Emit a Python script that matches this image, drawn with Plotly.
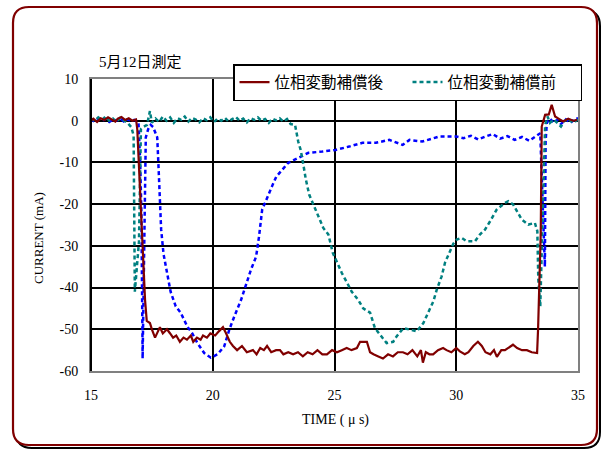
import plotly.graph_objects as go

# ---------------- data ----------------
red_t = [15.0, 15.1, 15.25, 15.4, 15.55, 15.7, 15.85, 16.0, 16.1, 16.25, 16.4, 16.55, 16.7, 16.85,
         16.9, 16.97, 17.08, 17.22, 17.29, 17.42, 17.5, 17.63, 17.75, 17.83, 17.95, 18.12, 18.25,
         18.37, 18.5, 18.65, 18.8, 18.94, 19.1, 19.2, 19.35, 19.5, 19.6, 19.76, 19.9, 20.1, 20.25,
         20.42, 20.55, 20.7, 20.83, 21.0, 21.2, 21.4, 21.65, 21.8, 21.95, 22.1, 22.23, 22.4, 22.6,
         22.76, 22.9, 23.1, 23.3, 23.5, 23.7, 23.9, 24.1, 24.3, 24.5, 24.69, 24.9, 25.1, 25.3, 25.5,
         25.7, 25.92, 26.05, 26.33, 26.46, 26.6, 26.8, 26.99, 27.2, 27.4, 27.6, 27.81, 28.0, 28.2,
         28.4, 28.55, 28.63, 28.75, 28.9, 29.05, 29.25, 29.46, 29.6, 29.8, 30.0, 30.15, 30.35, 30.5,
         30.7, 30.89, 31.05, 31.2, 31.4, 31.55, 31.67, 31.85, 32.0, 32.15, 32.33, 32.5, 32.7, 32.9,
         33.1, 33.32, 33.36, 33.47, 33.51, 33.65, 33.8, 33.92, 34.06, 34.2, 34.39, 34.6, 34.8, 34.96]
red_v = [0.0, 0.5, -0.3, 0.6, 0.2, 0.8, 0.3, -0.2, 0.5, 0.9, 0.2, 0.6, 0.0, 0.3,
         -2, -11, -27, -43, -48, -48.5, -50, -52, -50.5, -49.5, -51, -50, -51,
         -52, -51.5, -53, -52, -52.5, -51.5, -53, -52, -52.5, -51.5, -52, -51, -51.5, -50.5,
         -49.5, -51, -53, -54, -55, -54, -55.5, -55, -56, -54.5, -55, -54, -55.5, -55,
         -55, -56, -55.5, -56, -55.5, -56.5, -55.5, -56, -55, -56, -56, -55, -55.5, -55, -54.5,
         -55, -54.5, -53, -53, -55.5, -56, -56.5, -57, -56, -56.5, -55.5, -55.5, -56, -55,
         -56.5, -55, -58, -55.5, -56, -56, -55, -54.5, -55, -55.5, -54.5, -55.3, -56, -55.5,
         -54, -53, -54, -55.5, -56, -55, -56.6, -55, -55, -54.5, -53.7, -54.5, -55, -55,
         -55.5, -55.7, -50, -27, -1.4, 1.4, 1.5, 3.8, 1.0, 0.5, -0.2, 0.5, 0.0, 0.2]

teal_t = [15.0, 15.15, 15.3, 15.45, 15.6, 15.75, 15.9, 16.05, 16.2, 16.35, 16.5, 16.65, 16.75,
          16.8, 16.88, 16.97, 17.05, 17.15, 17.3, 17.42, 17.5, 17.65, 17.8, 17.95, 18.1, 18.25,
          18.4, 18.55, 18.7, 18.85, 19.0, 19.15, 19.3, 19.45, 19.6, 19.75, 19.9, 20.05, 20.2,
          20.35, 20.5, 20.65, 20.8, 20.95, 21.1, 21.25, 21.4, 21.55, 21.7, 21.85, 22.0, 22.15,
          22.3, 22.45, 22.6, 22.75, 22.9, 23.05, 23.2, 23.38, 23.51, 23.61, 23.72, 23.82, 23.96,
          24.16, 24.38, 24.54, 24.75, 24.93, 25.11, 25.3, 25.53, 25.71, 25.98, 26.18, 26.46,
          26.66, 26.87, 27.14, 27.41, 27.55, 27.83, 28.1, 28.38, 28.65, 28.85, 29.06, 29.2, 29.4,
          29.54, 29.74, 29.88, 30.02, 30.22, 30.43, 30.77, 30.97, 31.18, 31.39, 31.66, 32.0,
          32.14, 32.34, 32.55, 32.69, 32.96, 33.23, 33.33, 33.37, 33.45, 33.58, 33.65, 33.75,
          33.85, 34.0, 34.15, 34.3, 34.45, 34.6, 34.8, 35.0]
teal_v = [0.5, 0.0, 0.8, 0.2, 1.0, 0.0, 0.5, -0.3, 0.7, 0.2, -0.5, -1.5, -3.5,
          -41, -35, -29, -2, -1.5, -1, 2.3, -0.5, 0.5, -0.3, 1.0, 0.0, 0.8,
          -0.5, 0.6, 0.2, 1.0, -0.2, 0.7, 0.3, -0.4, 0.6, 0.1, 0.8, -0.3, 0.5,
          0.0, 0.7, -0.2, 0.4, 0.9, 0.0, 0.5, -0.4, 0.6, 0.2, 0.8, 0.0, 0.4,
          -0.5, 0.5, 0.1, 0.6, -0.2, 0.4, -0.8, -1, -5, -7, -10.5, -14, -17.7,
          -20.5, -23.3, -25.7, -27.3, -31.7, -34, -36.5, -39, -41, -43, -45, -46,
          -49.7, -51.3, -53.3, -53, -51.7, -49.7, -50.1, -50.5, -48.5, -46, -43.3, -40.5, -37.3,
          -34, -31.3, -29.5, -28.5, -28.1, -28.9, -28.9, -27.3, -26.1, -24.1, -21.3, -19.7,
          -19.3, -20.1, -22.1, -23.7, -24.9, -24.5, -26.5, -38, -44.5, -20, -1, 1.0,
          -0.5, 0.3, -0.5, -1.4, 0.0, 0.4, -0.5, 0.3]

blue_t = [15.0, 15.15, 15.3, 15.45, 15.6, 15.75, 15.9, 16.05, 16.2, 16.35, 16.5, 16.65, 16.8,
          16.95, 17.02, 17.07, 17.12, 17.18, 17.25, 17.35, 17.45, 17.55, 17.65, 17.72, 17.78,
          17.83, 17.88, 17.98, 18.13, 18.27, 18.48, 18.68, 18.96, 19.16, 19.37, 19.65, 19.92,
          20.2, 20.47, 20.68, 20.88, 21.16, 21.3, 21.57, 21.78, 21.9, 22.03, 22.24, 22.45, 22.61,
          22.83, 23.1, 23.52, 23.93, 24.5, 25.05, 25.6, 26.15, 26.7, 27.25, 27.8, 28.08, 28.6,
          29.3, 30.0, 30.3, 30.6, 30.9, 31.2, 31.5, 31.8, 32.1, 32.4, 32.7, 33.0, 33.3, 33.45,
          33.55, 33.64, 33.67, 33.72, 33.85, 34.0, 34.15, 34.3, 34.5, 34.7, 34.85, 35.0]
blue_v = [0.3, -0.2, 0.5, 0.0, 0.4, -0.3, 0.3, 0.0, 0.5, -0.2, 0.3, 0.0, 0.2,
          -0.5, -10, -22, -57, -35, -4, -2, -1, -1.5, -3, -4, -12,
          -20, -26, -32, -37, -41, -44.5, -46, -49.4, -51, -53.3, -55.7, -56.8,
          -56, -54.1, -50.1, -47, -43, -40.5, -35.7, -32.6, -27.8, -21.3, -18.2, -15.5, -13.4,
          -11.8, -10.1, -8.9, -7.7, -7.4, -7, -6.2, -5.3, -5.3, -4.6, -5.8, -4.6, -5,
          -3.8, -3.8, -4.2, -3.6, -4.5, -3.8, -3.2, -4.3, -3.7, -4.6, -3.9, -4.8, -3.5, -3,
          -20, -35, -5, -0.5, 0.5, -0.5, 0.2, -0.8, 0.3, -0.5, 0.4, 0.6]

x_ticks = [15, 20, 25, 30, 35]
y_ticks = [10, 0, -10, -20, -30, -40, -50, -60]
legend_names = ["位相変動補償後", "位相変動補償前"]
chart_title = "5月12日測定"
x_title = "TIME ( μ s)"
y_title = "CURRENT (mA)"

# ---------------- figure ----------------
W, H = 603, 449
ML, MR, MT, MB = 91, 25, 79, 78
PW, PH = W - ML - MR, H - MT - MB
FONT = "Liberation Serif, Noto Sans CJK JP, serif"


def px2paper(px, py):
    return (px - ML) / PW, (H - MB - py) / PH


def rounded_path(x0, y0, x1, y1, r):
    def P(x, y):
        a, b = px2paper(x, y)
        return f"{a:.5f},{b:.5f}"
    d = f"M {P(x0 + r, y0)} L {P(x1 - r, y0)} Q {P(x1, y0)} {P(x1, y0 + r)} "
    d += f"L {P(x1, y1 - r)} Q {P(x1, y1)} {P(x1 - r, y1)} "
    d += f"L {P(x0 + r, y1)} Q {P(x0, y1)} {P(x0, y1 - r)} "
    d += f"L {P(x0, y0 + r)} Q {P(x0, y0)} {P(x0 + r, y0)} Z"
    return d


fig = go.Figure()
fig.add_trace(go.Scatter(x=blue_t, y=blue_v, mode="lines", showlegend=False,
                         line=dict(color="#0000FF", width=2.5, dash="4px,3px")))
fig.add_trace(go.Scatter(x=red_t, y=red_v, mode="lines", name=legend_names[0],
                         line=dict(color="#800000", width=2.2)))
fig.add_trace(go.Scatter(x=teal_t, y=teal_v, mode="lines", name=legend_names[1],
                         line=dict(color="#008080", width=2.5, dash="4px,3px")))
# draw order: teal under red
fig.data = (fig.data[0], fig.data[2], fig.data[1])

fig.update_layout(
    width=W, height=H,
    margin=dict(l=ML, r=MR, t=MT, b=MB, pad=0),
    paper_bgcolor="white", plot_bgcolor="white",
    font=dict(family=FONT, size=14, color="black"),
    showlegend=True,
    legend=dict(orientation="h", x=(233 - ML) / PW, y=(H - MB - 64) / PH,
                xanchor="left", yanchor="top", bgcolor="white",
                bordercolor="black", borderwidth=1.5,
                font=dict(family=FONT, size=15.5), traceorder="reversed",
                itemwidth=30, entrywidth=128, entrywidthmode="pixels"),
    xaxis=dict(range=[15, 35], tickvals=x_ticks, ticktext=[str(v) for v in x_ticks],
               showgrid=True, gridcolor="black", gridwidth=1.5, zeroline=False,
               showline=True, linecolor="#808080", linewidth=2, mirror=True,
               ticks="", ticklabelstandoff=10, tickfont=dict(size=14)),
    yaxis=dict(range=[-60, 10], tickvals=y_ticks, ticktext=[str(v) for v in y_ticks],
               showgrid=True, gridcolor="black", gridwidth=1.5, zeroline=False,
               showline=True, linecolor="#808080", linewidth=2, mirror=True,
               ticks="", ticklabelstandoff=8, tickfont=dict(size=14)),
    shapes=[
        dict(type="path", xref="paper", yref="paper", path=rounded_path(16, 10, 600, 448, 16),
             line=dict(color="black", width=2), layer="below"),
        dict(type="path", xref="paper", yref="paper", path=rounded_path(13, 7, 597, 445, 16),
             line=dict(color="#800000", width=2.2), fillcolor="white", layer="below"),
        dict(type="line", xref="paper", yref="paper", x0=0, x1=0, y0=0, y1=1,
             line=dict(color="black", width=2), layer="above"),
    ],
    annotations=[
        dict(text=chart_title, xref="paper", yref="paper", x=px2paper(97, 62)[0],
             y=px2paper(97, 62)[1], xanchor="left", yanchor="middle", showarrow=False,
             font=dict(family=FONT, size=15)),
        dict(text=y_title, xref="paper", yref="paper", x=px2paper(38, 238)[0],
             y=px2paper(38, 238)[1], xanchor="center", yanchor="middle", showarrow=False,
             textangle=-90, font=dict(family=FONT, size=13)),
        dict(text=x_title, xref="paper", yref="paper", x=px2paper(335, 420)[0],
             y=px2paper(335, 420)[1], xanchor="center", yanchor="middle", showarrow=False,
             font=dict(family=FONT, size=14)),
    ],
)

fig.write_html("out.html")
